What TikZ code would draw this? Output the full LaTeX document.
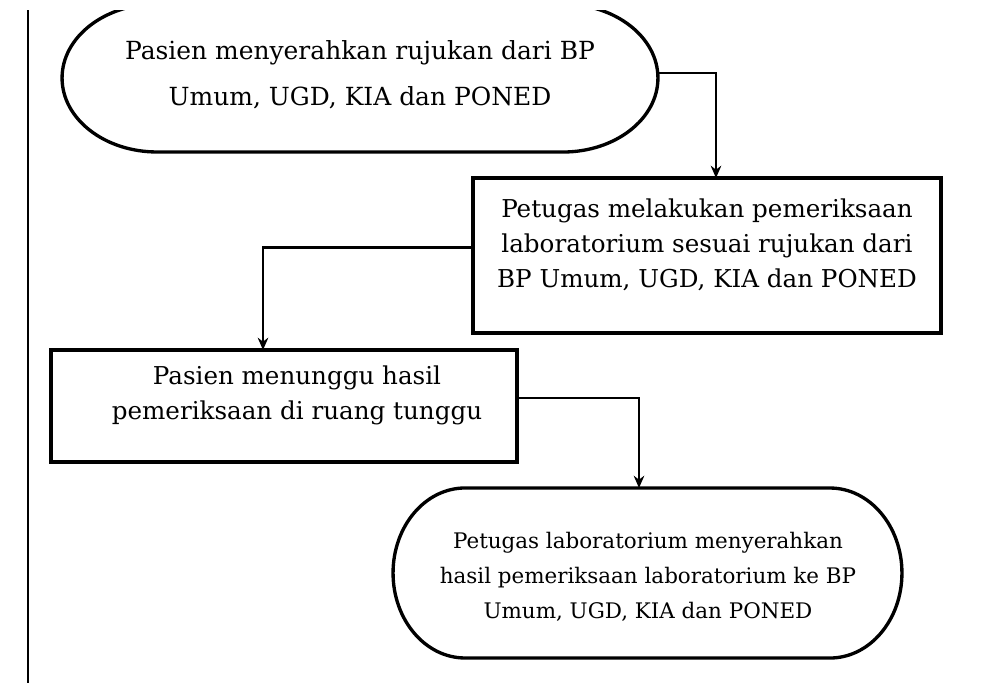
\documentclass[tikz,border=0pt]{standalone}
\usepackage{fontspec}
\setmainfont{DejaVu Serif}
\usetikzlibrary{calc,arrows.meta}
\begin{document}
\begin{tikzpicture}[x=0.02cm,y=-0.02cm,
  shapebox/.style={rectangle,inner sep=0pt,outer sep=0pt},
  rectbox/.style={shapebox,draw,line width=1.9pt},
  outline/.style={draw,line width=1.9pt},
  txt/.style={align=center,inner sep=0pt,font=\fontsize{14}{19.8}\selectfont},
  conn/.style={draw,line width=1.4pt,-{Stealth[length=7pt,width=6pt]}}]
\useasboundingbox[fill=white] (0,0) rectangle (998,683);
\begin{scope}
\clip (0,10) rectangle (998,683);
\draw[line width=1pt] (28,10) -- (28,683);
% nodes
\node[shapebox,minimum width=11.92cm,minimum height=2.96cm] (s1) at (360,78) {};
\node[rectbox,minimum width=9.36cm,minimum height=3.1cm] (b2) at (707,255.5) {};
\node[rectbox,minimum width=9.32cm,minimum height=2.24cm] (b3) at (284,406) {};
\node[shapebox,minimum width=10.18cm,minimum height=3.4cm] (s4) at (647.5,573) {};
% stadium outlines
\draw[outline] ($(s1.north west)+(95,0)$) -- ($(s1.north east)+(-95,0)$)
  arc[start angle=-90,end angle=90,x radius=95,y radius=74]
  -- ($(s1.south west)+(95,0)$)
  arc[start angle=90,end angle=270,x radius=95,y radius=74] -- cycle;
\draw[outline] ($(s4.north west)+(72,0)$) -- ($(s4.north east)+(-72,0)$)
  arc[start angle=-90,end angle=90,x radius=72,y radius=85]
  -- ($(s4.south west)+(72,0)$)
  arc[start angle=90,end angle=270,x radius=72,y radius=85] -- cycle;
% texts
\node[txt,font=\fontsize{14.2}{26}\selectfont] (t1) at (360,75) {Pasien menyerahkan rujukan dari BP\\Umum, UGD, KIA dan PONED};
\node[txt] (t2) at (707,245) {Petugas melakukan pemeriksaan\\laboratorium sesuai rujukan dari\\BP Umum, UGD, KIA dan PONED};
\node[txt] (t3) at (297,395.5) {Pasien menunggu hasil\\pemeriksaan di ruang tunggu};
\node[txt,font=\fontsize{12.2}{19.8}\selectfont] (t4) at (648,577) {Petugas laboratorium menyerahkan\\hasil pemeriksaan laboratorium ke BP\\Umum, UGD, KIA dan PONED};
% connectors
\draw[conn] ($(s1.east)+(0,-5)$) -| ($(b2.north)+(9,0)$);
\draw[conn] ($(b2.west)+(0,-8)$) -| ($(b3.north)+(-21,0)$);
\draw[conn] ($(b3.east)+(0,-8)$) -| ($(s4.north)+(-8.5,0)$);
\end{scope}
\end{tikzpicture}
\end{document}
